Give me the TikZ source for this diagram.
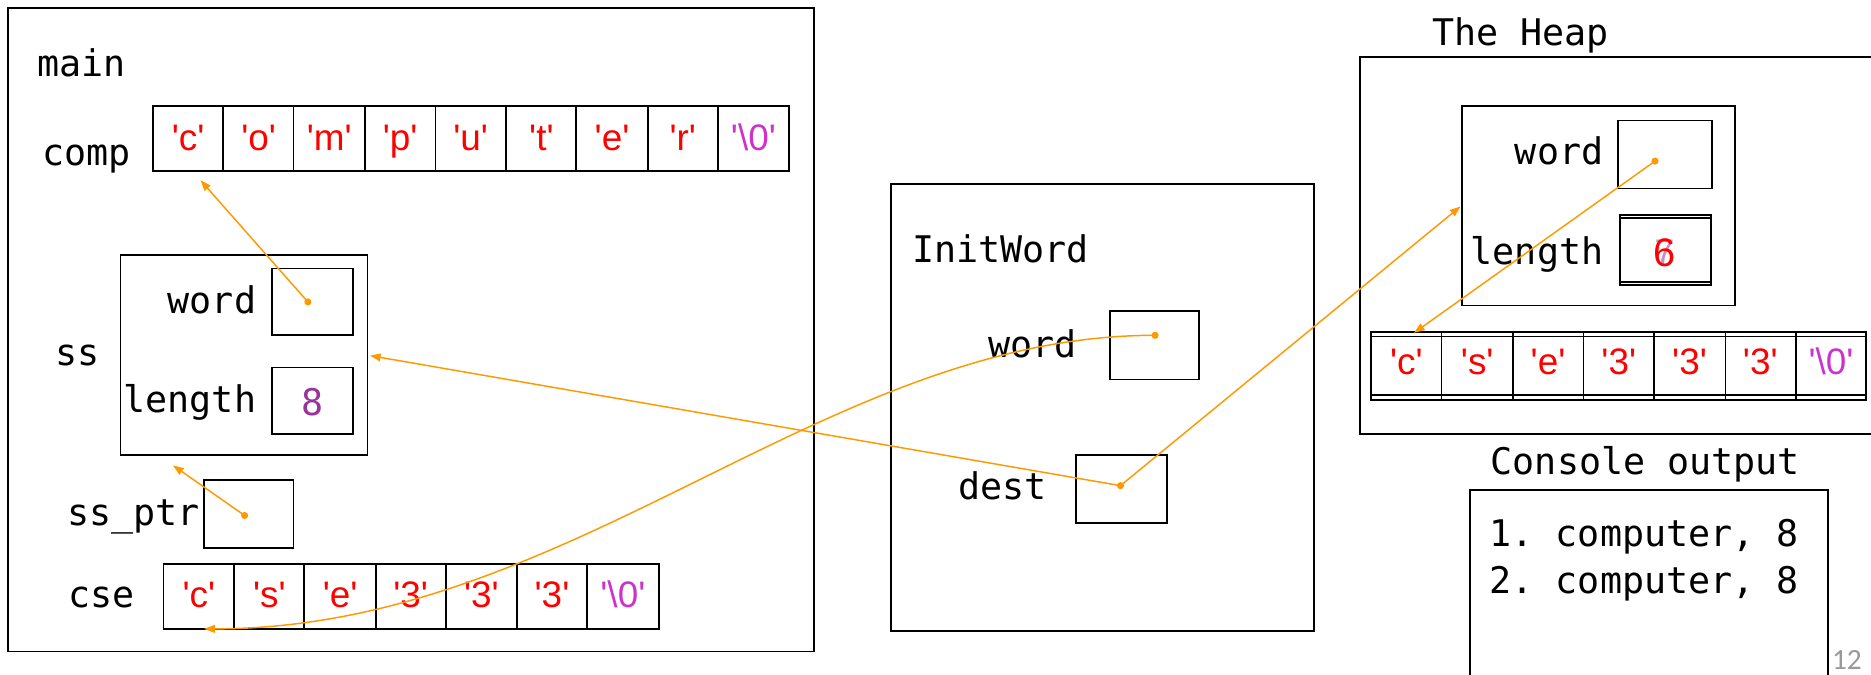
\documentclass[tikz,border=0pt]{standalone}
\usepackage{fontspec}
\usepackage{xcolor}
\usepackage{tikz}
\usetikzlibrary{arrows.meta, calc, positioning}

\newfontfamily\codefont{DejaVu Sans Mono}
\newfontfamily\charfont[Ligatures=TeXOff]{Liberation Sans}
\newfontfamily\slidefont{Carlito}
\frenchspacing

\definecolor{ptrorange}{RGB}{255,153,0}
\definecolor{nullpink}{RGB}{204,51,204}
\definecolor{lenpurple}{RGB}{153,51,153}

\tikzset{
  lbl/.style={font=\codefont\fontsize{17.5}{21}\selectfont, inner sep=0pt},
  chr/.style={font=\charfont\fontsize{17.6}{21}\selectfont, text=red, inner sep=0pt, anchor=base},
  nul/.style={chr, text=nullpink},
  pdot/.style={circle, fill=ptrorange, inner sep=0pt, minimum size=0.12cm},
  ptr/.style={draw=ptrorange, line width=0.7pt, -{Triangle[length=0.18cm, width=0.13cm]}},
  boxline/.style={line width=0.9pt},
}

\begin{document}
\begin{tikzpicture}[x=0.02cm, y=-0.02cm]
                        \useasboundingbox (0,0) rectangle (1568,565);
                        % main frame
                        \node[lbl, anchor=base west] (mainlbl) at (31,64) {main};
                        \node[lbl, anchor=base east] (complbl) at (110,139) {comp};
                        \node[lbl, anchor=base west] (sslbl) at (46,306) {ss};
                        \node[lbl, anchor=base east] (sswordlbl) at (215,263) {word};
                        \node[lbl, anchor=base east] (sslenlbl) at (215,346) {length};
                        \node[lbl, anchor=base, text=lenpurple] (sslen) at (262,348) {8};
                        \node[lbl, anchor=base west] (ssptrlbl) at (56,440) {ss\_ptr};
                        \node[lbl, anchor=base west] (cselbl) at (57,509) {cse};
                        \node[chr] (comp1) at (157.6,126) {'c'};
                        \node[chr] (comp2) at (216.8,126) {'o'};
                        \node[chr] (comp3) at (276,126) {'m'};
                        \node[chr] (comp4) at (335.3,126) {'p'};
                        \node[chr] (comp5) at (394.5,126) {'u'};
                        \node[chr] (comp6) at (453.7,126) {'t'};
                        \node[chr] (comp7) at (512.9,126) {'e'};
                        \node[chr] (comp8) at (572.2,126) {'r'};
                        \node[nul] (comp9) at (631.4,126) {'\textbackslash 0'};
                        \node[chr] (cse1) at (166.6,509) {'c'};
                        \node[chr] (cse2) at (225.8,509) {'s'};
                        \node[chr] (cse3) at (285,509) {'e'};
                        \node[chr] (cse4) at (344.2,509) {'3'};
                        \node[chr] (cse5) at (403.4,509) {'3'};
                        \node[chr] (cse6) at (462.6,509) {'3'};
                        \node[nul] (cse7) at (522,509) {'\textbackslash 0'};
                        \draw[boxline]
                        (7,7) rectangle (682,546)
                        (101,214) rectangle (308,381)
                        (228,225) rectangle (296,281)
                        (228,308) rectangle (296,364)
                        (171,402) rectangle (246,459);
                        \draw[boxline]
                        (128,89) rectangle (661,143)
                        (187,89) -- (187,143)
                        (246,89) -- (246,143)
                        (306,89) -- (306,143)
                        (365,89) -- (365,143)
                        (424,89) -- (424,143)
                        (483,89) -- (483,143)
                        (543,89) -- (543,143)
                        (602,89) -- (602,143);
                        \draw[boxline]
                        (137,473) rectangle (552,527)
                        (196,473) -- (196,527)
                        (255,473) -- (255,527)
                        (315,473) -- (315,527)
                        (374,473) -- (374,527)
                        (433,473) -- (433,527)
                        (492,473) -- (492,527);
                        % InitWord frame
                        \node[lbl, anchor=base west] (initlbl) at (764,220) {InitWord};
                        \node[lbl, anchor=base west] (iwwordlbl) at (828,300) {word};
                        \node[lbl, anchor=base west] (destlbl) at (803,419) {dest};
                        \draw[boxline]
                        (747,154) rectangle (1101,529)
                        (930,261) rectangle (1005,318)
                        (902,381) rectangle (978,438);
                        % the heap
                        \node[lbl, anchor=base west] (heaplbl) at (1200,38) {The Heap};
                        \node[lbl, anchor=base east] (hwordlbl) at (1344,138) {word};
                        \node[lbl, anchor=base east] (hlenlbl) at (1344,222) {length};
                        \node[chr, text=lenpurple!55, font=\charfont\fontsize{17}{22}\selectfont] (holdlen) at (1395,222) {7};
                        \node[chr, font=\charfont\fontsize{19}{22}\selectfont] (hlen) at (1395,223) {6};
                        \node[chr] (heap1) at (1178.6,314) {'c'};
                        \node[chr] (heap2) at (1238,314) {'s'};
                        \node[chr] (heap3) at (1297.3,314) {'e'};
                        \node[chr] (heap4) at (1356.6,314) {'3'};
                        \node[chr] (heap5) at (1415.9,314) {'3'};
                        \node[chr] (heap6) at (1475.2,314) {'3'};
                        \node[nul] (heap7) at (1534.4,314) {'\textbackslash 0'};
                        \draw[boxline]
                        (1568,48) -- (1140,48) -- (1140,364) -- (1568,364)
                        (1225,89) rectangle (1454,256)
                        (1356,101) rectangle (1435,158)
                        (1358,180) rectangle (1434,239)
                        (1358,183) -- (1434,183)
                        (1358,236) -- (1434,236);
                        \draw[boxline]
                        (1149,278) rectangle (1564,335)
                        (1149,282) -- (1564,282)
                        (1149,331) -- (1564,331)
                        (1208,278) -- (1208,335)
                        (1268,278) -- (1268,335)
                        (1327,278) -- (1327,335)
                        (1386,278) -- (1386,335)
                        (1446,278) -- (1446,335)
                        (1505,278) -- (1505,335);
                        % console
                        \node[lbl, anchor=base west] (conslbl) at (1249,398) {Console output};
                        \node[lbl, anchor=base west] (consline1) at (1248,458) {1. computer, 8};
                        \node[lbl, anchor=base west] (consline2) at (1248,497) {2. computer, 8};
                        \draw[boxline]
                        (1232,570) -- (1232,411) -- (1532,411) -- (1532,570);
                        \node[font=\slidefont\fontsize{14}{16}\selectfont, text=gray!80, inner sep=0pt, anchor=base west] (slideno) at (1535,561) {12};
                        % pointers
                        \node[pdot] (sswdot) at (258,253) {};
                        \node[pdot] (ssptrdot) at (205,432) {};
                        \node[pdot] (iwwdot) at (968,281) {};
                        \node[pdot] (destdot) at (939,407) {};
                        \node[pdot] (hwdot) at (1387,135) {};
                        \coordinate (comptip) at (168,151);
                        \coordinate (sstip) at (145,390);
                        \coordinate (ssright) at (310,298);
                        \coordinate (csetip) at (171,527);
                        \coordinate (heaptip) at (1224,173);
                        \coordinate (harrtip) at (1185,279);
                        \draw[ptr] (sswdot.center) -- (comptip);
                        \draw[ptr] (ssptrdot.center) -- (sstip);
                        \draw[ptr] (destdot.center) -- (ssright);
                        \draw[ptr] (destdot.center) -- (heaptip);
                        \draw[ptr] (hwdot.center) -- (harrtip);
                        \draw[ptr] (iwwdot.center) .. controls (690,281) and (480,527) .. (csetip);
                    \end{tikzpicture}
\end{document}
